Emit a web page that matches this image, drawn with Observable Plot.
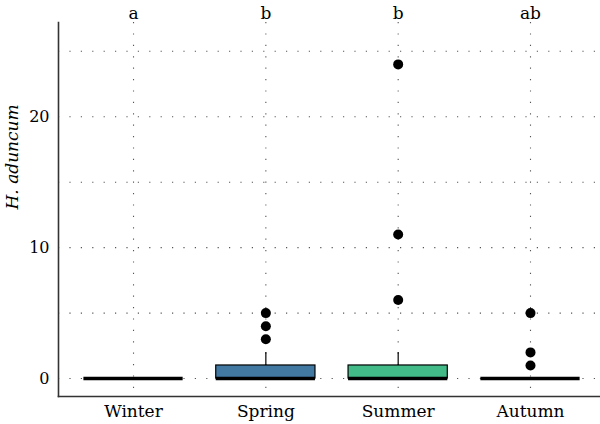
<!DOCTYPE html>
<html>
<head>
<meta charset="utf-8">
<script src="https://cdn.jsdelivr.net/npm/d3@7"></script>
<script src="https://cdn.jsdelivr.net/npm/@observablehq/plot@0.6"></script>
<style>
  html, body { margin: 0; padding: 0; background: #fff; }
  #chart svg { display: block; }
</style>
</head>
<body>
<div id="chart"></div>
<script>
// ---- data ----
const seasons = ["Winter", "Spring", "Summer", "Autumn"];
const letters = ["a", "b", "b", "ab"];
const q1 = [0, 0, 0, 0];
const median = [0, 0, 0, 0];
const q3 = [0, 1, 1, 0];
const whiskerLow = [0, 0, 0, 0];
const whiskerHigh = [0, 2, 2, 0];
const outliers = [[], [3, 4, 5], [6, 11, 24], [1, 2, 5]];
const fills = ["#46337e", "#4279a3", "#42bb89", "#b5de2b"];
const yTicks = [0, 10, 20];
const yGrid = [0, 5, 10, 15, 20, 25];
const yLabel = "H. aduncum";

// ---- derived tables ----
const pos = seasons.map((_, i) => i + 1);
const halfWidth = 0.375;
const boxes = seasons.map((s, i) => ({
  season: s, x: pos[i], x1: pos[i] - halfWidth, x2: pos[i] + halfWidth,
  q1: q1[i], q3: q3[i], median: median[i], lo: whiskerLow[i], hi: whiskerHigh[i], fill: fills[i]
}));
const points = seasons.flatMap((s, i) => outliers[i].map(v => ({ season: s, x: pos[i], y: v })));

const font = "DejaVu Serif";

const chart = Plot.plot({
  width: 600,
  height: 424,
  marginLeft: 58,
  marginRight: 0,
  marginTop: 22,
  marginBottom: 28,
  style: { fontFamily: font, background: "#fff", color: "#000" },
  x: { type: "linear", domain: [0.433, 4.529] },
  y: { domain: [-1.37, 27.2] },
  marks: [
    Plot.gridY(yGrid, { stroke: "#555", strokeOpacity: 1, strokeWidth: 1.1, strokeDasharray: "1.2,10.2" }),
    Plot.gridX(pos, { stroke: "#555", strokeOpacity: 1, strokeWidth: 1.1, strokeDasharray: "1.2,10.2" }),
    Plot.ruleX(boxes, { x: "x", y1: "q3", y2: "hi", stroke: "#000", strokeWidth: 1.2 }),
    Plot.ruleX(boxes, { x: "x", y1: "lo", y2: "q1", stroke: "#000", strokeWidth: 1.2 }),
    Plot.rect(boxes, { x1: "x1", x2: "x2", y1: "q1", y2: "q3", fill: "fill", stroke: "#000", strokeWidth: 1.2 }),
    Plot.ruleY(boxes, { x1: "x1", x2: "x2", y: "median", stroke: "#000", strokeWidth: 3.6 }),
    Plot.dot(points, { x: "x", y: "y", r: 5, fill: "#000", stroke: "none" }),
    Plot.frame({ anchor: "left", stroke: "#333", strokeWidth: 1.6 }),
    Plot.frame({ anchor: "bottom", stroke: "#333", strokeWidth: 1.6 }),
    Plot.axisY({ ticks: yTicks, tickSize: 0, tickPadding: 9, fontSize: 16, label: null, tickFormat: d => String(d) }),
    Plot.axisX({ ticks: pos, tickSize: 0, tickPadding: 8, fontSize: 17, label: null, tickFormat: d => seasons[d - 1] }),
    Plot.axisX({ anchor: "top", ticks: pos, tickSize: 0, tickPadding: 4, fontSize: 17, label: null, tickFormat: d => letters[d - 1] }),
    Plot.text([yLabel], { text: d => d, frameAnchor: "left", rotate: -90, dx: -46, fontSize: 17, fontStyle: "italic", fill: "#000" })
  ]
});
document.getElementById("chart").appendChild(chart);
</script>
</body>
</html>
